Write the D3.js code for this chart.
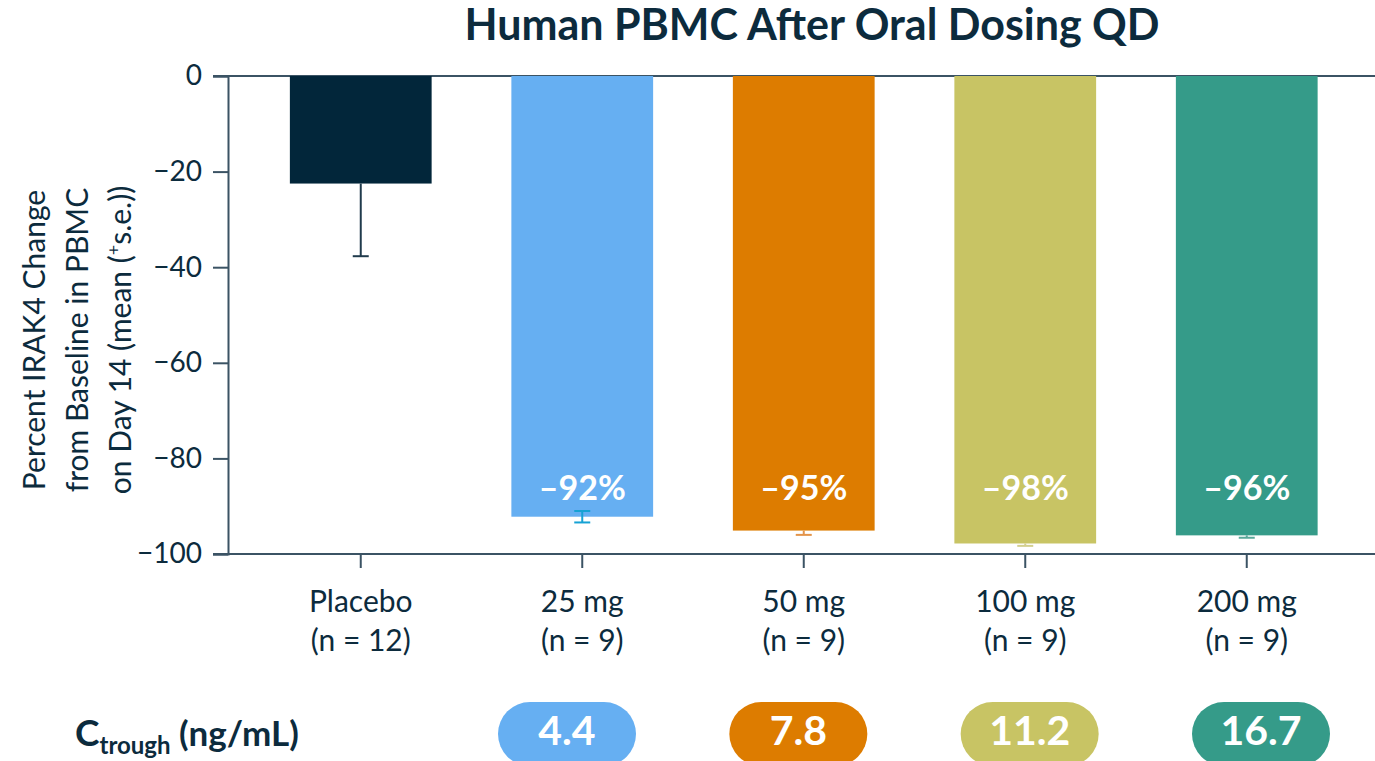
<!DOCTYPE html>
<html>
<head>
<meta charset="utf-8">
<script src="https://cdn.jsdelivr.net/npm/d3@7"></script>
<style>
  body { margin: 0; background: #fff; }
  svg { display: block; font-family: Lato, "Noto Sans", sans-serif; }
</style>
</head>
<body>
<div id="chart"></div>
<script>
// Chart data
const groups = ["Placebo", "25 mg", "50 mg", "100 mg", "200 mg"];
const groupN = ["(n = 12)", "(n = 9)", "(n = 9)", "(n = 9)", "(n = 9)"];
const meanChange = [-22.5, -92.2, -95.1, -97.8, -96.1];
const seLower = [15.2, 1.2, 0.9, 0.5, 0.5];
const seUpper = [0, 1.2, 0, 0, 0];
const valueLabels = ["", "\u201392%", "\u201395%", "\u201398%", "\u201396%"];
const ctroughGroups = ["25 mg", "50 mg", "100 mg", "200 mg"];
const ctrough = ["4.4", "7.8", "11.2", "16.7"];
const yTicks = [0, -20, -40, -60, -80, -100];

const barColors = ["#02263a", "#66aff2", "#dd7c00", "#c8c464", "#359b89"];
const errColors = ["#203b4c", "#16a2d4", "#e3944a", "#d3cf8e", "#5aa89a"];
const ink = "#0c2b3d";
const axisColor = "#3b5364";

const W = 1375, H = 761;

// Main function to draw the chart
function renderChart(selector) {
    const svg = d3.select(selector)
        .append("svg")
        .attr("width", W)
        .attr("height", H);

    const x = d3.scaleBand()
        .domain(groups)
        .range([250, 1357.5])
        .paddingInner(0.36)
        .paddingOuter(0.18);

    const y = d3.scaleLinear()
        .domain([0, -100])
        .range([76, 554]);

    // pills sit on their own slightly offset positions
    const xPill = d3.scalePoint()
        .domain(ctroughGroups)
        .range([567, 1261]);

    // Title
    svg.append("text")
        .attr("x", 812)
        .attr("y", 40)
        .attr("text-anchor", "middle")
        .attr("font-size", "43px")
        .attr("font-weight", "bold")
        .attr("fill", ink)
        .text("Human PBMC After Oral Dosing QD");

    // Y axis
    const yAxis = svg.append("g")
        .attr("transform", "translate(228,0)")
        .call(d3.axisLeft(y).tickValues(yTicks).tickSize(15).tickPadding(11)
            .tickFormat(d => d === 0 ? "0" : "\u2212" + Math.abs(d)));
    yAxis.select(".domain").attr("stroke", axisColor).attr("stroke-width", 2);
    yAxis.selectAll(".tick line").attr("stroke", axisColor).attr("stroke-width", 2);
    yAxis.selectAll(".tick text")
        .attr("font-size", "28px")
        .attr("fill", ink)
        .attr("font-family", "Lato, sans-serif");

    // Horizontal lines at 0 and -100
    [0, -100].forEach(v => {
        svg.append("line")
            .attr("x1", 213).attr("x2", W)
            .attr("y1", y(v)).attr("y2", y(v))
            .attr("stroke", axisColor)
            .attr("stroke-width", 2);
    });

    // Category ticks on bottom line
    groups.forEach(g => {
        const cx = x(g) + x.bandwidth() / 2;
        svg.append("line")
            .attr("x1", cx).attr("x2", cx)
            .attr("y1", y(-100)).attr("y2", y(-100) + 14)
            .attr("stroke", axisColor)
            .attr("stroke-width", 2);
    });

    // Y axis title
    const yTitle = ["Percent IRAK4 Change", "from Baseline in PBMC", "on Day 14 (mean ("];
    const yt = svg.append("text")
        .attr("transform", "translate(45,340) rotate(-90)")
        .attr("text-anchor", "middle")
        .attr("font-size", "30px")
        .attr("fill", ink);
    yt.append("tspan").attr("x", 0).attr("dy", 0).text(yTitle[0]);
    yt.append("tspan").attr("x", 0).attr("dy", 43).text(yTitle[1]);
    yt.append("tspan").attr("x", 0).attr("dy", 43).text(yTitle[2]);
    yt.append("tspan").attr("font-size", "18px").attr("dy", -11).text("+");
    yt.append("tspan").attr("dy", 11).text("s.e.))");

    // Bars
    svg.selectAll("rect.bar")
        .data(groups)
        .join("rect")
        .attr("class", "bar")
        .attr("x", d => x(d))
        .attr("y", y(0))
        .attr("width", x.bandwidth())
        .attr("height", (d, i) => y(meanChange[i]) - y(0))
        .attr("fill", (d, i) => barColors[i]);

    // Error bars
    groups.forEach((g, i) => {
        const cx = x(g) + x.bandwidth() / 2;
        const lo = meanChange[i] - seLower[i];
        const hi = meanChange[i] + seUpper[i];
        const col = errColors[i];
        const capW = 8;
        svg.append("line")
            .attr("x1", cx).attr("x2", cx)
            .attr("y1", y(hi)).attr("y2", y(lo))
            .attr("stroke", col).attr("stroke-width", 2);
        svg.append("line")
            .attr("x1", cx - capW).attr("x2", cx + capW)
            .attr("y1", y(lo)).attr("y2", y(lo))
            .attr("stroke", col).attr("stroke-width", 2);
        if (seUpper[i] > 0) {
            svg.append("line")
                .attr("x1", cx - capW).attr("x2", cx + capW)
                .attr("y1", y(hi)).attr("y2", y(hi))
                .attr("stroke", col).attr("stroke-width", 2);
        }
    });

    // Value labels inside bars
    groups.forEach((g, i) => {
        if (!valueLabels[i]) return;
        svg.append("text")
            .attr("x", x(g) + x.bandwidth() / 2)
            .attr("y", y(-86.8))
            .attr("text-anchor", "middle")
            .attr("dominant-baseline", "middle")
            .attr("font-size", "34px")
            .attr("font-weight", "bold")
            .attr("fill", "#fff")
            .text(valueLabels[i]);
    });

    // Category labels
    groups.forEach((g, i) => {
        const cx = x(g) + x.bandwidth() / 2;
        const t = svg.append("text")
            .attr("text-anchor", "middle")
            .attr("font-size", "30px")
            .attr("fill", ink);
        t.append("tspan").attr("x", cx).attr("y", 612).text(g);
        t.append("tspan").attr("x", cx).attr("y", 651).text(groupN[i]);
    });

    // Ctrough row
    const ct = svg.append("text")
        .attr("x", 75)
        .attr("y", 746)
        .attr("font-weight", "bold")
        .attr("fill", ink);
    ct.append("tspan").attr("font-size", "37px").text("C");
    ct.append("tspan").attr("font-size", "24px").attr("dy", 8).text("trough");
    ct.append("tspan").attr("font-size", "35px").attr("dy", -8).text(" (ng/mL)");

    const pillW = 138, pillH = 64;
    ctroughGroups.forEach((g, i) => {
        const cx = xPill(g);
        const col = barColors[groups.indexOf(g)];
        svg.append("rect")
            .attr("x", cx - pillW / 2)
            .attr("y", 702)
            .attr("width", pillW)
            .attr("height", pillH)
            .attr("rx", pillH / 2)
            .attr("fill", col);
        svg.append("text")
            .attr("x", cx)
            .attr("y", 734)
            .attr("text-anchor", "middle")
            .attr("dominant-baseline", "middle")
            .attr("font-size", "41px")
            .attr("font-weight", "bold")
            .attr("fill", "#fff")
            .text(ctrough[i]);
    });
}

renderChart("#chart");
</script>
</body>
</html>
